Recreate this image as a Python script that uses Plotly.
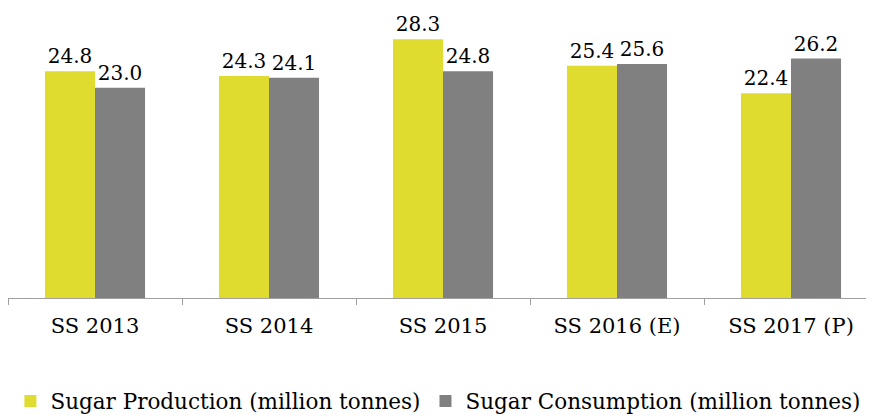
import plotly.graph_objects as go

categories = ["SS 2013", "SS 2014", "SS 2015", "SS 2016 (E)", "SS 2017 (P)"]
production = [24.8, 24.3, 28.3, 25.4, 22.4]
consumption = [23.0, 24.1, 24.8, 25.6, 26.2]

FONT = "DejaVu Serif, Liberation Serif, serif"

fig = go.Figure()
fig.add_trace(go.Bar(
    name="Sugar Production (million tonnes)", x=categories, y=production,
    marker=dict(color="#E0DC2F", line=dict(width=0)),
    text=[f"{v:.1f}" for v in production], textposition="outside",
    textfont=dict(family=FONT, size=20, color="#000"), cliponaxis=False))
fig.add_trace(go.Bar(
    name="Sugar Consumption (million tonnes)", x=categories, y=consumption,
    marker=dict(color="#808080", line=dict(width=0)),
    text=[f"{v:.1f}" for v in consumption], textposition="outside",
    textfont=dict(family=FONT, size=20, color="#000"), cliponaxis=False))

fig.update_layout(
    width=866, height=409,
    margin=dict(l=0, r=0, t=0, b=119, autoexpand=False),
    barmode="group", bargap=0.425, bargroupgap=0,
    plot_bgcolor="white", paper_bgcolor="white",
    font=dict(family=FONT, size=21, color="#000"),
    showlegend=True,
    legend=dict(orientation="h", x=0.497, xanchor="center", xref="container",
                y=0.039, yanchor="middle", yref="container",
                font=dict(family=FONT, size=21.5), itemwidth=30, traceorder="normal"),
    uniformtext=dict(mode=False),
)
fig.update_xaxes(
    range=[-0.5, 4.477], showline=True, linecolor="#A0A0A0", linewidth=1,
    ticks="outside", tickson="boundaries", ticklen=6, tickcolor="#A0A0A0",
    tickfont=dict(family=FONT, size=21), ticklabelstandoff=9,
    showgrid=False, automargin=False)
fig.update_yaxes(range=[0, 31.73], visible=False, showgrid=False)

fig.write_html("out.html")
